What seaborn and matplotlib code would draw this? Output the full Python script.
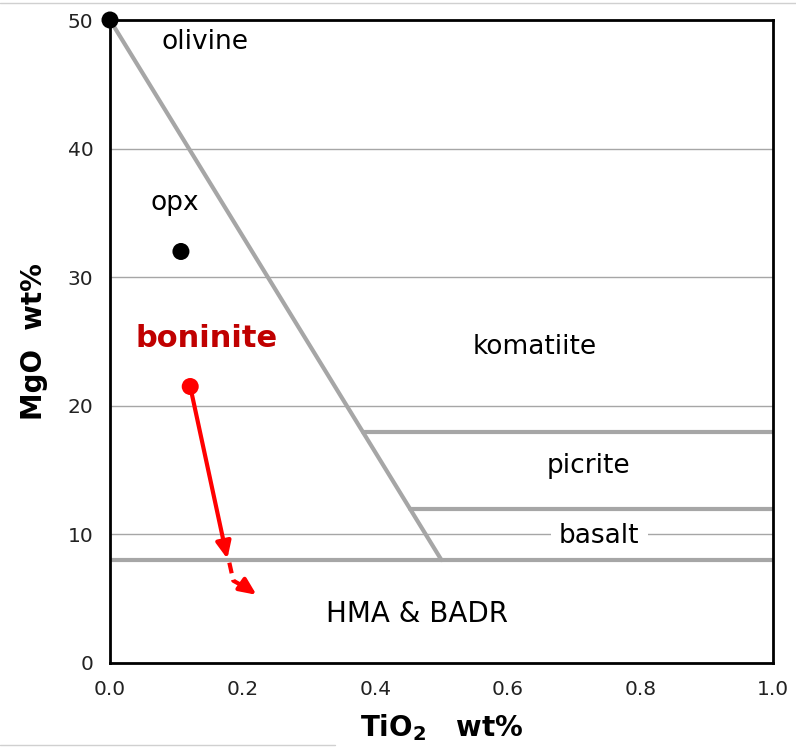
import matplotlib
matplotlib.use("Agg")
import matplotlib.pyplot as plt
from matplotlib.lines import Line2D
from matplotlib.patches import FancyArrowPatch
import seaborn as sns
import pandas as pd

# Field boundaries of the MgO vs TiO2 classification diagram
olivine_opx_x = [0.0, 0.5]
olivine_opx_y = [50.0, 8.0]
boundary_levels = [8.0, 12.0, 18.0]      # MgO wt% of horizontal boundaries
boundary_starts = [0.0, 0.452, 0.381]    # TiO2 where each boundary leaves the diagonal
boundary_end = 1.0

# Mineral end-members
mineral_x = [0.0, 0.107]
mineral_y = [50.0, 32.0]

# Boninite starting composition and its fractionation trend
boninite_x = [0.121]
boninite_y = [21.5]
trend_solid_x = [0.121, 0.177]
trend_solid_y = [21.5, 8.1]
trend_dash_x = [0.180, 0.186, 0.221]
trend_dash_y = [7.8, 6.4, 5.3]

# Field names
field_names = ["olivine", "opx", "komatiite", "picrite", "basalt", "HMA & BADR"]
field_x = [0.143, 0.098, 0.640, 0.721, 0.738, 0.463]
field_y = [48.3, 35.8, 24.6, 15.3, 9.9, 3.8]

x_ticks = [0.0, 0.2, 0.4, 0.6, 0.8, 1.0]
y_ticks = [0, 10, 20, 30, 40, 50]

sns.set_style("white")
plt.rcParams["font.family"] = ["DejaVu Sans"]

fig = plt.figure(figsize=(7.96, 7.49), dpi=100)
ax = fig.add_axes([110 / 796, 1 - 663 / 749, 663 / 796, 643 / 749])

ax.set_xlim(0, 1.0)
ax.set_ylim(0, 50)
ax.set_xticks(x_ticks)
ax.set_yticks(y_ticks)
ax.set_xticklabels([f"{t:.1f}" for t in x_ticks], fontsize=14.5, color="#222222")
ax.set_yticklabels([str(t) for t in y_ticks], fontsize=14.5, color="#222222")

# light horizontal gridlines
for g in [10, 20, 30, 40]:
    ax.axhline(g, color="#a6a6a6", lw=1.0, zorder=0)

for s in ax.spines.values():
    s.set_color("black")
    s.set_linewidth(2.0)
ax.tick_params(axis="both", direction="out", length=6, width=1.6, color="black", pad=6)

# field boundaries
bdf = pd.DataFrame({"x": olivine_opx_x, "y": olivine_opx_y})
sns.lineplot(data=bdf, x="x", y="y", ax=ax, color="#a6a6a6", lw=3, zorder=2,
             sort=False, estimator=None)
for lvl, x0 in zip(boundary_levels, boundary_starts):
    hdf = pd.DataFrame({"x": [x0, boundary_end], "y": [lvl, lvl]})
    sns.lineplot(data=hdf, x="x", y="y", ax=ax, color="#a6a6a6", lw=3, zorder=2,
                 estimator=None)

# mineral compositions
mdf = pd.DataFrame({"x": mineral_x, "y": mineral_y})
sns.scatterplot(data=mdf, x="x", y="y", ax=ax, color="black", s=150,
                edgecolor="none", zorder=6, clip_on=False)

# boninite trend
red = "#ff0000"
head = "-|>,head_length=10,head_width=4.5"
ax.add_patch(FancyArrowPatch((trend_solid_x[0], trend_solid_y[0]),
                             (trend_solid_x[1], trend_solid_y[1]),
                             arrowstyle=head, mutation_scale=1,
                             color=red, lw=3, zorder=5, shrinkA=0, shrinkB=0))
ax.plot(trend_dash_x[:-1] + [trend_dash_x[-1] - 0.014], trend_dash_y[:-1] + [trend_dash_y[-1] + 0.5],
        color=red, lw=3, ls=(0, (2.6, 1.6)), zorder=5, solid_capstyle="butt")
ax.add_patch(FancyArrowPatch((trend_dash_x[-1] - 0.022, trend_dash_y[-1] + 0.8),
                             (trend_dash_x[-1], trend_dash_y[-1]),
                             arrowstyle=head, mutation_scale=1,
                             color=red, lw=3, zorder=5, shrinkA=0, shrinkB=0))
bdf2 = pd.DataFrame({"x": boninite_x, "y": boninite_y})
sns.scatterplot(data=bdf2, x="x", y="y", ax=ax, color=red, s=150,
                edgecolor="none", zorder=6)

# field labels
for name, fx, fy in zip(field_names, field_x, field_y):
    kw = {}
    if name == "basalt":
        kw["bbox"] = dict(facecolor="white", edgecolor="none", pad=6)
    size = 20 if name == "HMA & BADR" else 19
    ax.text(fx, fy, name, ha="center", va="center", fontsize=size, color="black",
            zorder=4, **kw)
ax.text(0.145, 25.2, "boninite", ha="center", va="center", fontsize=22,
        fontweight="bold", color="#c00000", zorder=4)

ax.set_xlabel(r"TiO$_\mathbf{2}$   wt%", fontsize=20, fontweight="bold",
              labelpad=10, color="black")
ax.set_ylabel("MgO  wt%", fontsize=20, fontweight="bold", labelpad=14,
              color="black")

# thin frame lines at the edges of the slide
fig.add_artist(Line2D([0, 1], [1 - 3 / 749, 1 - 3 / 749], color="#d0d0d0", lw=1))
fig.add_artist(Line2D([0, 335 / 796], [1 - 745 / 749, 1 - 745 / 749], color="#d0d0d0", lw=1))

fig.savefig("out.png", dpi=100)
